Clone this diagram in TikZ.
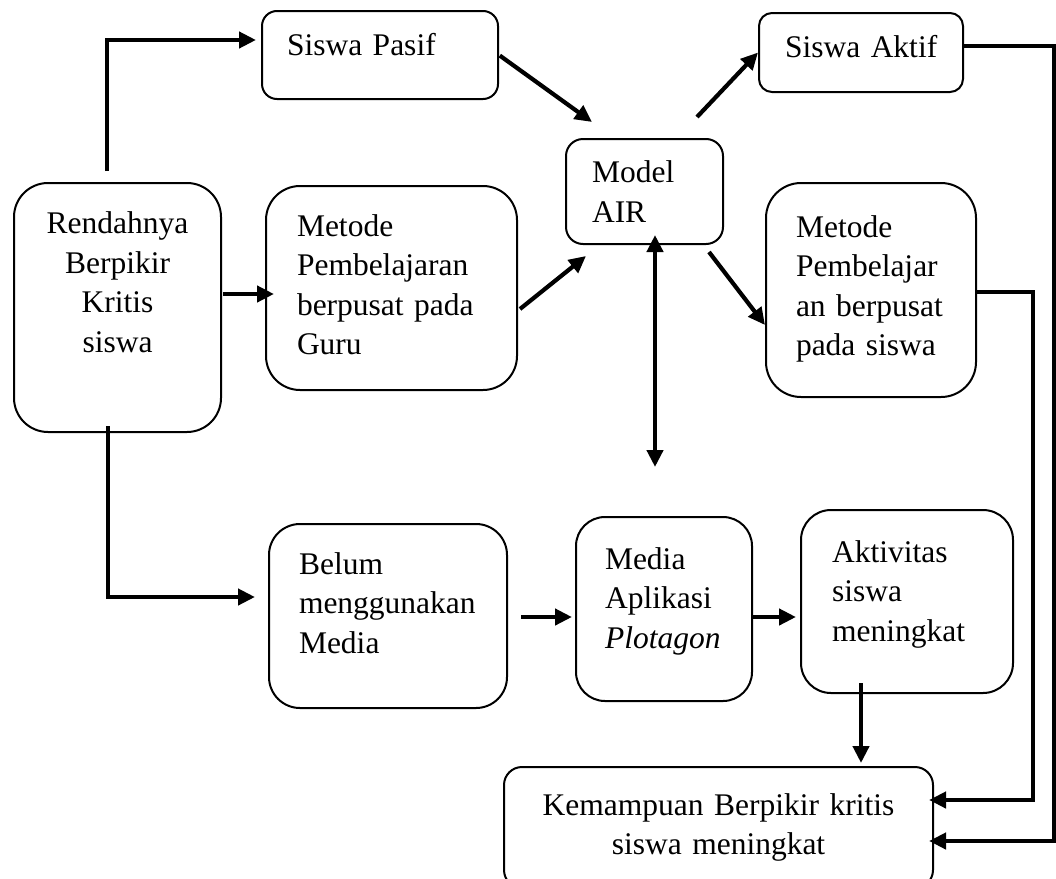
\documentclass[tikz,border=0pt]{standalone}
\usepackage{fontspec}
\setmainfont{Liberation Serif}
\usetikzlibrary{arrows.meta}
\hyphenpenalty=10000
\newcommand\padb[1]{\rule[-#1]{0pt}{#1}}
\begin{document}
\begin{tikzpicture}[x=1pt, y=-1pt,
    box/.style={draw, line width=2pt, inner sep=0pt, align=left, font=\fontsize{31.5}{39.6}\selectfont},
    conn/.style={line width=4.2pt, -{Triangle[length=17pt,width=16pt]}},
    dconn/.style={line width=4.2pt, {Triangle[length=17pt,width=16pt]}-{Triangle[length=17pt,width=16pt]}}]
    \useasboundingbox (0,0) rectangle (1056,878);
    \node[box, minimum width=207pt, minimum height=249pt, rounded corners=34pt, align=center, text width=180pt] (rendah) at (117.5,307.5) {Rendahnya\\Berpikir\\Kritis\\siswa\padb{51pt}};
    \node[box, minimum width=236pt, minimum height=88pt,  rounded corners=15pt, text width=186pt] (pasif)  at (380,55)    {Siswa~Pasif\padb{21pt}};
    \node[box, minimum width=251pt, minimum height=204pt, rounded corners=34pt, text width=189pt] (guru)   at (391.5,288) {Metode\\Pembelajaran\\berpusat~pada\\Guru\padb{7pt}};
    \node[box, minimum width=157pt, minimum height=105pt, rounded corners=17pt, text width=105pt] (air)    at (644.5,191.5) {Model\\AIR};
    \node[box, minimum width=204pt, minimum height=79pt,  rounded corners=13pt, text width=152pt] (aktif)  at (861,52.5)  {Siswa~Aktif\padb{12pt}};
    \node[box, minimum width=210pt, minimum height=214pt, rounded corners=35pt, text width=150pt] (msiswa) at (871,290)   {Metode\\Pembelajar\\an~berpusat\\pada~siswa\padb{9pt}};
    \node[box, minimum width=238pt, minimum height=184pt, rounded corners=31pt, text width=178pt] (belum)  at (388,616)   {Belum\\menggunakan\\Media\padb{26pt}};
    \node[box, minimum width=176pt, minimum height=184pt, rounded corners=29pt, text width=118pt] (media)  at (664,609)   {Media\\Aplikasi\\\textit{Plotagon}\padb{22pt}};
    \node[box, minimum width=212pt, minimum height=183pt, rounded corners=30pt, text width=150pt] (aktiv)  at (907,601.5) {Aktivitas\\siswa\\meningkat\padb{21pt}};
    \node[box, minimum width=429pt, minimum height=121pt, rounded corners=18pt, align=center, text width=400pt] (kemamp) at (718.5,827.5) {Kemampuan Berpikir kritis\\siswa meningkat\padb{5pt}};
    \coordinate (airend) at (655,467);
    \coordinate (outer)  at (1054,841);
    \coordinate (inner)  at (1033,800);
    \draw [conn, shorten <=11pt, shorten >=5pt] ([xshift=-10.5pt]rendah.north) |- ([yshift=15pt]pasif.west);
    \draw [conn, shorten <=1pt, shorten >=-9pt] ([yshift=13.5pt]rendah.east) -- ([yshift=-6pt]guru.west);
    \draw [conn, shorten <=-7pt, shorten >=13pt] ([xshift=-9.5pt]rendah.south) |- ([yshift=19pt]belum.west);
    \draw [conn, shorten <=1pt] (pasif.east) -- ([xshift=27pt,yshift=16pt]air.north west);
    \draw [conn] ([xshift=2pt,yshift=-21pt]guru.east) -- ([xshift=21pt,yshift=-11pt]air.south west);
    \draw [conn] ([xshift=52.5pt,yshift=21pt]air.north) -- (aktif.west);
    \draw [conn] ([xshift=-15pt,yshift=-7pt]air.south east) -- ([yshift=-35pt]msiswa.west);
    \draw [dconn, shorten <=-10pt] ([xshift=10.5pt]air.south) -- (airend);
    \draw [conn, shorten <=13pt, shorten >=3pt] ([yshift=-1pt]belum.east) -- ([yshift=-8pt]media.west);
    \draw [conn, shorten >=4pt] ([yshift=-8pt]media.east) -- ([yshift=-15.5pt]aktiv.west);
    \draw [conn, shorten <=-11pt, shorten >=3pt] ([xshift=-46pt]aktiv.south) -- ([xshift=142.5pt]kemamp.north);
    \draw [conn, shorten >=-5pt] ([yshift=6.5pt]aktif.east) -| (outer) -- ([yshift=-13.5pt]kemamp.east);
    \draw [conn, shorten >=-5pt] ([yshift=-2pt]msiswa.east) -| (inner) -- ([yshift=27.5pt]kemamp.east);
\end{tikzpicture}
\end{document}
